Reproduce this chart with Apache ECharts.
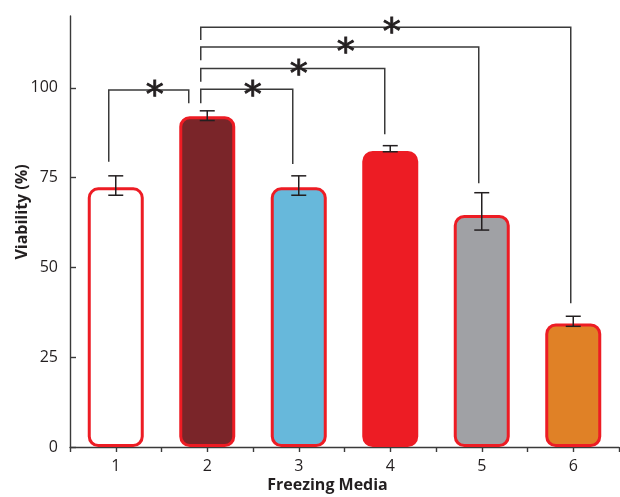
<!DOCTYPE html>
<html>
<head>
<meta charset="utf-8">
<script src="https://cdn.jsdelivr.net/npm/echarts@6/dist/echarts.min.js"></script>
<style>html,body{margin:0;padding:0;background:#fff;}#chart{width:620px;height:497px;}</style>
</head>
<body>
<div id="chart"></div>
<script>
// ---- data ----
const categories = ['1', '2', '3', '4', '5', '6'];
const viability = [72.3, 92.1, 72.3, 82.4, 64.6, 34.4];
const errLow = [70.1, 90.9, 70.1, 82.2, 60.4, 33.6];
const errHigh = [75.5, 93.6, 75.5, 83.9, 70.8, 36.4];
const yTicks = [0, 25, 50, 75, 100];
const comparisons = [[0, 1], [1, 2], [1, 3], [1, 4], [1, 5]];
const bracketLevel = [99.4, 99.6, 105.4, 111.4, 116.9];
const leftLegEnd = [79.4, 95.7, 101.7, 107.7, 113.3];
const rightLegEnd = [95.7, 78.8, 87.1, 73.4, 40.0];
const markText = ['*', '*', '*', '*', '*'];
const xTitle = 'Freezing Media';
const yTitle = 'Viability (%)';

// ---- styles ----
const barColors = ['#FFFFFF', '#7A2529', '#67B8DB', '#ED1C24', '#A0A1A5', '#E08126'];
const ink = '#231F20';
const axisInk = '#3a3a3a';
const dxLeft = [-7, -6.5, -6.5, -6.5, -6.5];
const dxRight = [-18.5, -6, -5.5, -3, -2.5];

const chart = echarts.init(document.getElementById('chart'), null, {renderer: 'canvas'});

const option = {
  animation: false,
  backgroundColor: '#fff',
  grid: {left: 70, right: 1, top: 16, bottom: 50, containLabel: false, outerBoundsMode: 'none'},
  xAxis: [{
    type: 'category',
    data: categories,
    position: 'bottom',
    axisLine: {lineStyle: {color: axisInk, width: 1.4}},
    axisTick: {show: true, alignWithLabel: true, length: 5, lineStyle: {color: axisInk, width: 1.4}},
    axisLabel: {color: ink, fontSize: 16, fontFamily: 'Open Sans', margin: 11},
    name: xTitle,
    nameLocation: 'middle',
    nameGap: 30,
    nameMoveOverlap: false,
    nameTextStyle: {color: ink, fontSize: 16, fontWeight: 'bold', fontFamily: 'Open Sans', padding: [0, 34, 0, 0]}
  }, {
    type: 'category',
    data: categories,
    position: 'bottom',
    axisLine: {show: false},
    axisTick: {show: true, alignWithLabel: false, length: 5, lineStyle: {color: axisInk, width: 1.4}},
    axisLabel: {show: false}
  }],
  yAxis: {
    type: 'value',
    min: 0,
    max: 120,
    interval: 25,
    splitLine: {show: false},
    axisLine: {show: true, lineStyle: {color: axisInk, width: 1.4}},
    axisTick: {show: true, inside: true, length: 6, customValues: yTicks, lineStyle: {color: axisInk, width: 1.4}},
    axisLabel: {color: ink, fontSize: 16, fontFamily: 'Open Sans', margin: 12, customValues: yTicks},
    name: yTitle,
    nameLocation: 'middle',
    nameGap: 40,
    nameRotate: 90,
    nameMoveOverlap: false,
    nameTextStyle: {color: ink, fontSize: 16, fontWeight: 'bold', fontFamily: 'Open Sans', padding: [0, 0, 0, 39]}
  },
  series: [{
    type: 'bar',
    xAxisIndex: 0,
    barWidth: 56,
    data: viability.map((v, i) => ({value: v, itemStyle: {color: barColors[i]}})),
    itemStyle: {borderColor: '#ED1C24', borderWidth: 3, borderRadius: 9},
    z: 2
  }, {
    type: 'custom',
    xAxisIndex: 0,
    data: errLow.map((v, i) => [i, v, errHigh[i]]),
    encode: {x: 0, y: [1, 2]},
    z: 5,
    renderItem: function (params, api) {
      const x = api.value(0);
      const lo = api.coord([x, api.value(1)]);
      const hi = api.coord([x, api.value(2)]);
      const hw = 7.5;
      const style = {stroke: ink, lineWidth: 1.5, fill: null};
      return {type: 'group', children: [
        {type: 'line', shape: {x1: lo[0], y1: lo[1], x2: hi[0], y2: hi[1]}, style: style},
        {type: 'line', shape: {x1: lo[0] - hw, y1: lo[1], x2: lo[0] + hw, y2: lo[1]}, style: style},
        {type: 'line', shape: {x1: hi[0] - hw, y1: hi[1], x2: hi[0] + hw, y2: hi[1]}, style: style}
      ]};
    }
  }, {
    type: 'custom',
    xAxisIndex: 0,
    data: comparisons.map((c, i) => [c[0], c[1], bracketLevel[i], leftLegEnd[i], rightLegEnd[i]]),
    encode: {x: [0, 1], y: [2, 3, 4]},
    z: 6,
    renderItem: function (params, api) {
      const i = params.dataIndex;
      const a = api.coord([api.value(0), api.value(2)]);
      const b = api.coord([api.value(1), api.value(2)]);
      const yl = api.coord([api.value(0), api.value(3)])[1];
      const yr = api.coord([api.value(1), api.value(4)])[1];
      const xl = a[0] + dxLeft[i];
      const xr = b[0] + dxRight[i];
      const y = a[1];
      return {type: 'group', children: [
        {type: 'polyline', shape: {points: [[xl, yl], [xl, y], [xr, y], [xr, yr]]},
          style: {stroke: axisInk, lineWidth: 1.5, fill: null}},
        {type: 'text', x: (xl + xr) / 2 + 6, y: y + 7,
          style: {text: markText[i], fill: ink, stroke: ink, lineWidth: 0.9, font: '36px "DejaVu Sans"', align: 'center', verticalAlign: 'middle'}}
      ]};
    }
  }]
};
chart.setOption(option);
</script>
</body>
</html>
